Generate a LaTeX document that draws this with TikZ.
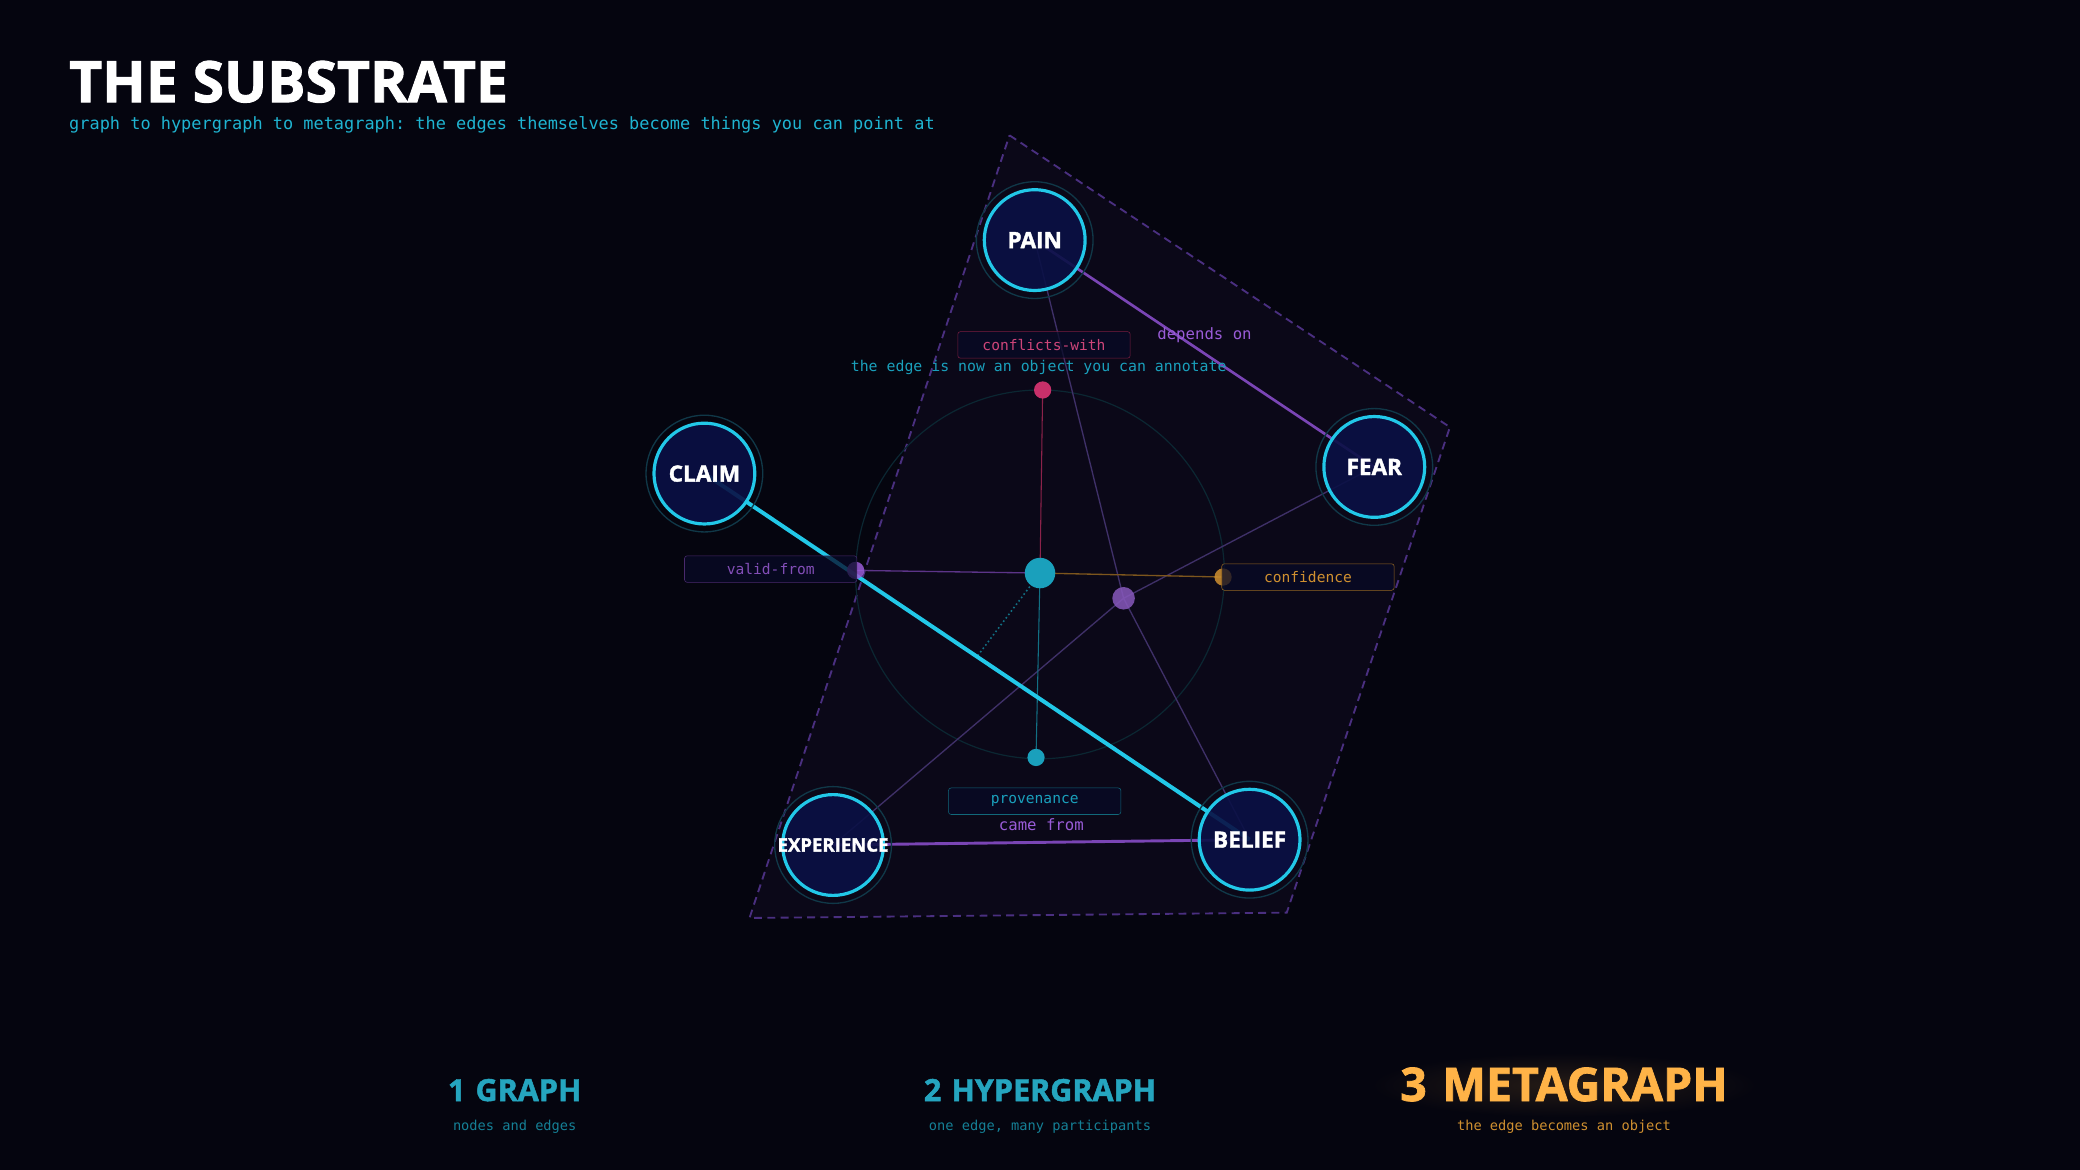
\documentclass[tikz,border=0pt]{standalone}
\usepackage{fontspec}
\setmainfont{Open Sans}
\setmonofont{DejaVu Sans Mono}
\newfontfamily\heavyfont{Open Sans}[BoldFeatures={FakeBold=1.6}]
\usepackage{tikz}
\usetikzlibrary{calc}

\definecolor{bgcol}{HTML}{05050F}
\definecolor{sheetfill}{HTML}{0B0818}
\definecolor{sheetline}{HTML}{4A2F80}
\definecolor{cyanline}{HTML}{22C8E8}
\definecolor{nodefill}{HTML}{0A1045}
\definecolor{ringcol}{HTML}{103848}
\definecolor{purp}{HTML}{7A45B5}
\definecolor{purptext}{HTML}{9A5CD8}
\definecolor{hyperline}{HTML}{3F3068}
\definecolor{pinkc}{HTML}{C8306A}
\definecolor{orng}{HTML}{D09030}
\definecolor{tealc}{HTML}{1AA0BC}
\definecolor{tagfill}{HTML}{080A26}
\definecolor{gold}{HTML}{FFB347}

\begin{document}
\begin{tikzpicture}[x=1pt,y=-1pt,
  thing/.style={circle,draw=cyanline,line width=2.4pt,fill=nodefill,fill opacity=0.9,
    text opacity=1,minimum size=76pt,inner sep=0pt,text=white,
    font=\heavyfont\bfseries\fontsize{17}{17}\selectfont},
  tag/.style={draw,rounded corners=2pt,fill=tagfill,fill opacity=0.75,text opacity=1,
    minimum width=130pt,minimum height=20pt,inner sep=0pt,
    font=\ttfamily\fontsize{11}{13}\selectfont},
  dot/.style={circle,inner sep=0pt,minimum size=12pt},
  mono/.style={font=\ttfamily\fontsize{11.2}{13}\selectfont},
  stage/.style={anchor=base,inner sep=0pt,font=\heavyfont\bfseries\fontsize{23}{23}\selectfont},
  stagesub/.style={anchor=base,inner sep=0pt,font=\ttfamily\fontsize{10.3}{12}\selectfont}]
 \def\rring{44}

    %Background
    \fill[bgcol] (0,0) rectangle (1568,882);
    \useasboundingbox (0,0) rectangle (1568,882);

    % Title
    \node[anchor=base west,inner sep=0pt,text=white,font=\heavyfont\bfseries\fontsize{43}{43}\selectfont] (title) at (52,77) {THE SUBSTRATE};
    \node[anchor=base west,inner sep=0pt,text=cyanline!90!black,font=\ttfamily\fontsize{12.75}{15}\selectfont] (subtitle) at (52,98) {graph to hypergraph to metagraph: the edges themselves become things you can point at};

    % Sheet
    \draw[sheetline, dashed, dash pattern=on 6pt off 4pt, line width=1.4pt, fill=sheetfill] (761,102) -- (1093,322) -- (970,688) -- (565,692) -- cycle;
    \draw[ringcol!70!black, line width=0.9pt] (784,433) circle (139);

    % Metanode and its tags
    \coordinate (pain0) at (780,181);
    \coordinate (claim0) at (531,357);
    \coordinate (fear0) at (1036,352);
    \coordinate (exp0) at (628,637);
    \coordinate (belief0) at (942,633);
    \coordinate (mid) at ($(claim0)!0.5!(belief0)$);

    \node[dot] (pdot) at (786,294) {};
    \node[dot] (vdot) at (645,430) {};
    \node[dot] (cdot) at (922,435) {};
    \node[dot] (tdot) at (781,571) {};
    \node[dot,minimum size=16pt] (hyp) at (847,451) {};
    \node[dot,minimum size=22pt] (meta) at (784,432) {};

    %Edges
    \draw[hyperline, line width=1pt] (pain0) -- (hyp.center) -- (belief0);
    \draw[hyperline, line width=1pt] (fear0) -- (hyp.center) -- (exp0);
    \draw[pinkc!70!black, line width=0.8pt] (meta.center) -- (pdot.center);
    \draw[purp!75!black, line width=1pt] (meta.center) -- (vdot.center);
    \draw[orng!60!black, line width=1pt] (meta.center) -- (cdot.center);
    \draw[tealc!70!black, line width=0.8pt] (meta.center) -- (tdot.center);
    \draw[tealc!70!black, line width=1.2pt, dotted] (meta.center) -- (mid);
    \draw[purp, line width=2pt] (pain0) -- (fear0);
    \draw[purp, line width=2.2pt] (exp0) -- (belief0);
    \draw[cyanline, line width=3pt] (claim0) -- (belief0);

    % Dots
    \fill[pinkc] (pdot) circle (6.5);
    \fill[purptext, opacity=0.85] (vdot) circle (6.5);
    \fill[orng, opacity=0.85] (cdot) circle (6.5);
    \fill[tealc] (tdot) circle (6.5);
    \fill[purp!90!white, opacity=0.85] (hyp) circle (8.5);
    \fill[tealc] (meta) circle (11.5);

    % Tags
    \node[tag, draw=pinkc!60!black, text=pinkc!90!white] (conflicts) at (787,260) {conflicts-with};
    \node[tag, draw=purp!60!black, text=purptext!85!black] (valid) at (581,429) {valid-from};
    \node[tag, draw=orng!70!black, text=orng] (confidence) at (986,435) {confidence};
    \node[tag, draw=tealc!65!black, text=tealc] (provenance) at (780,604) {provenance};
    \node[mono, text=tealc, inner sep=0pt] (annot) at (783,277) {the edge is now an object you can annotate};
    \node[mono, text=purptext, inner sep=0pt, font=\ttfamily\fontsize{11.8}{13}\selectfont] (dep) at (908,253) {depends on};
    \node[mono, text=purptext, inner sep=0pt, font=\ttfamily\fontsize{11.8}{13}\selectfont] (came) at (785,622) {came from};

    % Nodes
    \foreach \n in {pain0,claim0,fear0,exp0,belief0}
      \draw[ringcol, line width=1pt] (\n) circle (\rring);
    \node[thing] (pain) at (pain0) {PAIN};
    \node[thing] (claim) at (claim0) {CLAIM};
    \node[thing] (fear) at (fear0) {FEAR};
    \node[thing, label={[text=white,font=\heavyfont\bfseries\fontsize{14}{15}\selectfont]center:EXPERIENCE}] (experience) at (exp0) {};
    \node[thing] (belief) at (belief0) {BELIEF};

    % Stages
    \shade[inner color=gold!13!bgcol, outer color=bgcol] (1179,818) ellipse (145 and 24);
    \node[stage, text=tealc!95!white] (graph) at (388,830) {1\,\,GRAPH};
    \node[stagesub, text=tealc!80!black] (graphsub) at (388,852) {nodes and edges};
    \node[stage, text=tealc!95!white] (hypergraph) at (784,830) {2\,\,HYPERGRAPH};
    \node[stagesub, text=tealc!80!black] (hypersub) at (784,852) {one edge, many participants};
    \node[stage, text=gold, font=\heavyfont\bfseries\fontsize{35}{35}\selectfont] (metagraph) at (1179,830) {3\,\,METAGRAPH};
    \node[stagesub, text=orng] (metasub) at (1179,852) {the edge becomes an object};
\end{tikzpicture}
\end{document}
